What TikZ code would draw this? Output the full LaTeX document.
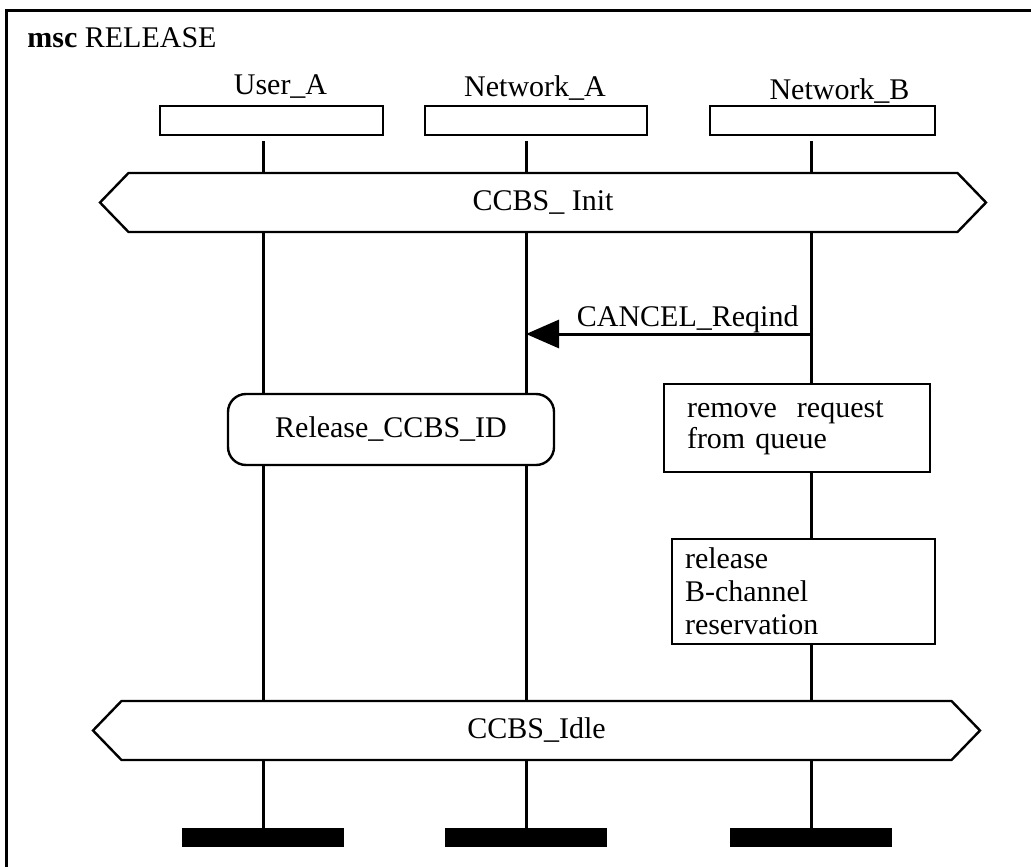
\documentclass[tikz,border=0pt]{standalone}
\usepackage{fontspec}
\setmainfont{Liberation Serif}
\usepackage{tikz}
\usetikzlibrary{arrows.meta}
\usetikzlibrary{calc}
\usetikzlibrary{shapes.symbols}
\usetikzlibrary{positioning}

\begin{document}
\begin{tikzpicture}[
		x=0.5pt, y=-0.5pt,
		every node/.style={font=\fontsize{15}{16.5}\selectfont},
		frame/.style={line width=1.5pt},
		head/.style={draw,line width=1.2pt,inner sep=0pt,minimum width=111.5pt,minimum height=14.5pt},
		lifeline/.style={line width=1.5pt},
		cond/.style={signal,signal to=east and west,signal pointer angle=92,draw,line width=1.2pt,fill=white,inner sep=0pt,minimum width=443pt,minimum height=29.5pt},
		act/.style={draw,line width=1.2pt,fill=white,inner sep=0pt},
		msg/.style={line width=1.5pt,-{Triangle[length=16.5pt,width=14pt]}},
		stopbar/.style={fill=black,inner sep=0pt,minimum width=81pt,minimum height=9.5pt},
		lbl/.style={inner sep=0pt}
	]

	\useasboundingbox (0,0) rectangle (1031,866);

	% Frame and title
	\draw[frame] (6,11) rectangle (1060,900);
	\node[lbl,anchor=base west] (title) at (27,48) {\textbf{msc} RELEASE};

	% Instance axes
	\coordinate (UA) at (263,0);
	\coordinate (NA) at (526,0);
	\coordinate (NB) at (811,0);

	% Instance heads
	\node[head] (hUA) at (271.5,120.5) {};
	\node[head,minimum width=111pt] (hNA) at (536,120.5) {};
	\node[head,minimum width=112.5pt] (hNB) at (822.5,120.5) {};
	\node[lbl,anchor=base] (tUA) at (280.5,95) {User\_A};
	\node[lbl,anchor=base] (tNA) at (535,97) {Network\_A};
	\node[lbl,anchor=base] (tNB) at (839.5,100) {Network\_B};

	% Instance ends
	\coordinate (barY) at (0,837.5);
	\node[stopbar] (eUA) at (UA|-barY) {};
	\node[stopbar] (eNA) at (NA|-barY) {};
	\node[stopbar] (eNB) at (NB|-barY) {};

	% Lifelines
	\foreach \l in {UA,NA,NB}
		\draw[lifeline] ($(\l|-h\l.south)+(0,5)$) -- (e\l.north);

	% Conditions
	\node[cond] (init) at (543,202.5) {CCBS\_ Init};
	\node[cond,minimum width=443.5pt] (idle) at (536.5,730.5) {CCBS\_Idle};

	% Message
	\coordinate (cancelY) at (0,334);
	\draw[msg] (NB|-cancelY) node[lbl,anchor=south east,xshift=-5.5pt]{CANCEL\_Reqind} -- (NA|-cancelY);

	% Actions
	\node[act,rounded corners=9pt,minimum width=163pt,minimum height=35.5pt] (relID) at (391,429.5) {Release\_CCBS\_ID};
	\node[act,minimum height=44pt,text width=110pt,inner xsep=11.5pt,align=left,
		font=\fontsize{15}{15.5}\selectfont] (remQ) at (797,428) {remove\ \ request\\from queue};
	\node[act,minimum height=52.5pt,text width=118.5pt,inner xsep=6.5pt,align=left] (relB) at (803.5,591.5) {release\\B-channel\\reservation};

\end{tikzpicture}
\end{document}
